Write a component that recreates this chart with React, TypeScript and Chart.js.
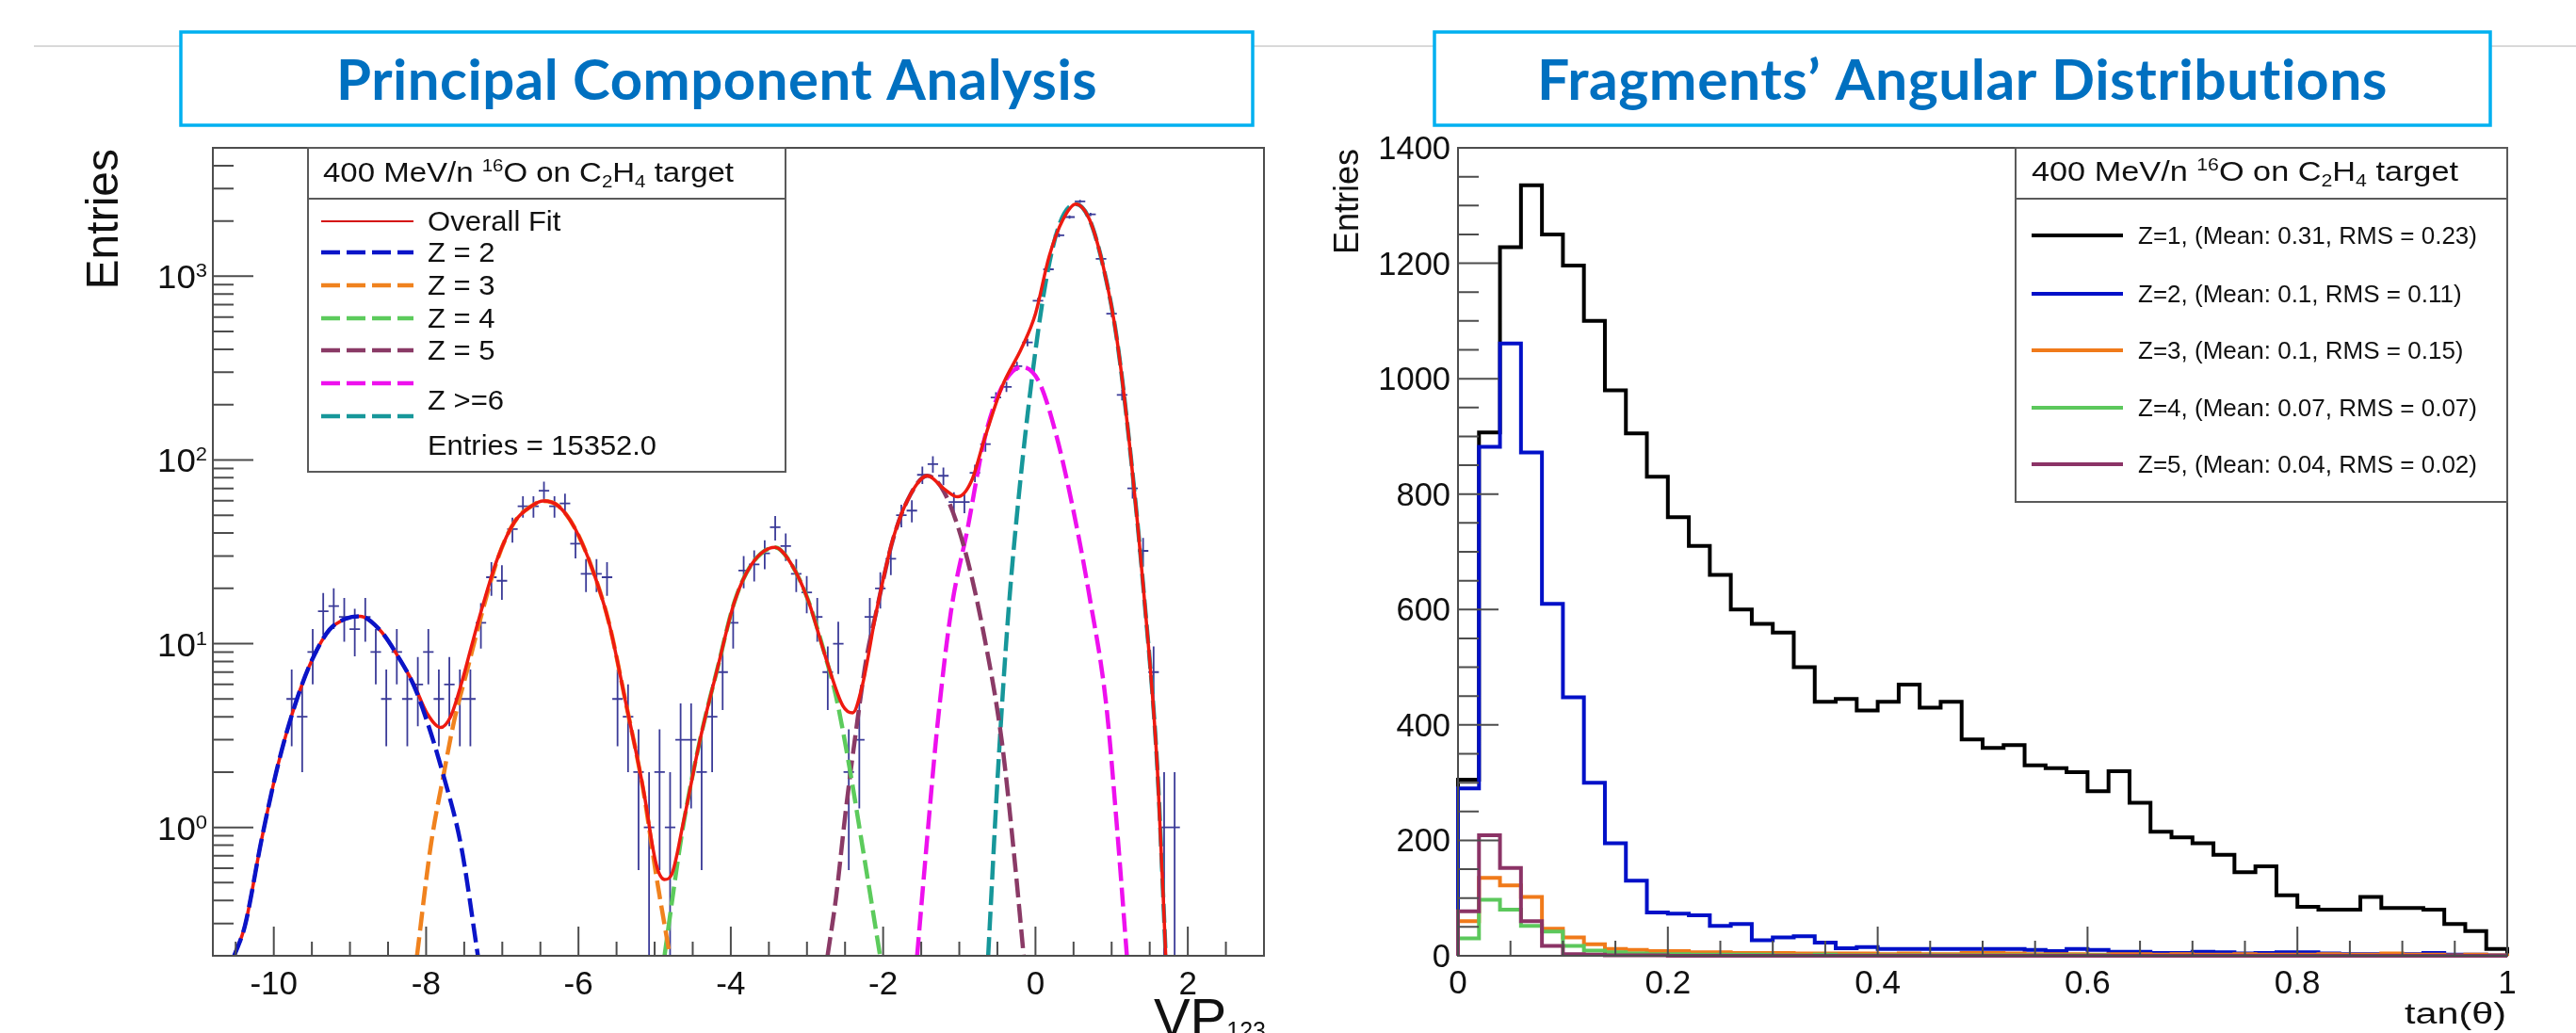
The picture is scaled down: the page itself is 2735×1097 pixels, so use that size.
import React, { useEffect, useRef } from "react";
import { Chart, registerables } from "chart.js";

Chart.register(...registerables);

const FONT = "'Liberation Sans', Arial, Helvetica, sans-serif";
const TITLE_FONT = "Lato, 'Open Sans', 'Noto Sans', sans-serif";
const INK = "#111111";
const FRAME = "#4d4d4d";

/* ================= Left panel: Principal Component Analysis ================= */
const pcaTitle = "Principal Component Analysis";
const pcaXMin = -10.8;
const pcaXMax = 3.0;
const pcaYMin = 0.2;
const pcaYMax = 5000;
const pcaBinStart = -10.8;
const pcaBinWidth = 0.138;
const pcaFirstBin = 7;
// measured entries per bin (bins 7 .. 91)
const pcaCounts = [
  5, 4, 9, 15, 16, 14, 12, 14, 9, 5, 9, 5, 6, 9, 5, 6, 5, 5, 13, 23,
  22, 42, 56, 56, 68, 56, 58, 35, 24, 24, 23, 5, 4, 2, 1, 2, 1, 3, 3, 2,
  4, 7, 13, 25, 27, 31, 43, 34, 24, 19, 14, 7, 10, 2, 3, 14, 20, 29, 50, 53,
  83, 95, 82, 59, 59, 85, 122, 219, 250, 324, 436, 736, 1091, 1671, 2100, 2557, 2171, 1245, 625, 226,
  70, 32, 7, 1, 1,
];
const pcaXTickLabels = [-10, -8, -6, -4, -2, 0, 2];
const pcaYDecades = [0, 1, 2, 3];

// fit curves: [VP, entries]
const fitOverall: [number, number][] = [
  [-10.52, 0.2], [-10.38, 0.29], [-10.16, 0.86], [-9.94, 2.23], [-9.71, 4.8], [-9.49, 8.3], [-9.27, 11.9],
  [-9.05, 13.7], [-8.87, 14.1], [-8.61, 11.9], [-8.39, 8.8], [-8.16, 6.0], [-7.99, 4.2], [-7.81, 3.5],
  [-7.68, 4.0], [-7.54, 6.0], [-7.41, 9.5], [-7.28, 14.9], [-7.06, 29.3], [-6.84, 46], [-6.62, 56],
  [-6.46, 59.8], [-6.26, 56], [-6.04, 42], [-5.82, 25.6], [-5.6, 13], [-5.38, 4.8], [-5.15, 1.63],
  [-4.98, 0.63], [-4.87, 0.52], [-4.78, 0.55], [-4.62, 1.08], [-4.4, 3.05], [-4.18, 7.2], [-3.95, 17],
  [-3.73, 26.9], [-3.42, 33.4], [-3.2, 26.9], [-2.98, 17], [-2.75, 8.3], [-2.53, 4.6], [-2.4, 4.2],
  [-2.27, 6.0], [-2.09, 14.9], [-1.87, 37.3], [-1.64, 65], [-1.42, 82], [-1.2, 69.6], [-1.02, 63],
  [-0.84, 76.8], [-0.67, 130], [-0.44, 250], [-0.18, 408], [0.0, 625], [0.18, 1285], [0.36, 2032],
  [0.53, 2472], [0.71, 2032], [0.89, 1127], [1.07, 451], [1.25, 106], [1.42, 19.4], [1.6, 2.1], [1.71, 0.2],
];
const fitZ2: [number, number][] = [
  [-10.52, 0.2], [-10.38, 0.29], [-10.16, 0.86], [-9.94, 2.23], [-9.71, 4.8], [-9.49, 8.3], [-9.27, 11.9],
  [-9.05, 13.7], [-8.87, 14.1], [-8.61, 11.9], [-8.39, 8.8], [-8.16, 5.9], [-7.99, 3.8], [-7.77, 1.9],
  [-7.54, 0.79], [-7.32, 0.2],
];
const fitZ3: [number, number][] = [
  [-8.12, 0.2], [-7.94, 0.79], [-7.77, 1.94], [-7.63, 3.84], [-7.46, 7.2], [-7.28, 14], [-7.06, 29],
  [-6.84, 46], [-6.62, 56], [-6.46, 59.8], [-6.26, 56], [-6.04, 42], [-5.82, 25.6], [-5.6, 13],
  [-5.38, 4.8], [-5.15, 1.6], [-4.98, 0.55], [-4.8, 0.2],
];
const fitZ4: [number, number][] = [
  [-4.87, 0.2], [-4.71, 0.6], [-4.62, 1.05], [-4.4, 3.05], [-4.18, 7.2], [-3.95, 17], [-3.73, 26.9],
  [-3.42, 33.4], [-3.2, 26.9], [-2.98, 17], [-2.75, 8.3], [-2.62, 5.2], [-2.44, 2.1], [-2.27, 0.78], [-2.04, 0.2],
];
const fitZ5: [number, number][] = [
  [-2.73, 0.2], [-2.62, 0.41], [-2.49, 1.24], [-2.35, 3.5], [-2.22, 8.3], [-2.09, 14.9], [-1.87, 37],
  [-1.64, 65], [-1.42, 82], [-1.2, 67], [-0.93, 32.7], [-0.67, 10.8], [-0.44, 2.9], [-0.27, 0.64], [-0.155, 0.2],
];
const fitZ6a: [number, number][] = [
  [-1.554, 0.2], [-1.42, 0.89], [-1.29, 3.5], [-1.11, 14.9], [-0.89, 42.6], [-0.67, 130], [-0.44, 250],
  [-0.18, 321], [0.045, 267], [0.27, 138], [0.49, 55], [0.71, 18], [0.93, 4.6], [1.07, 1.0], [1.2, 0.2],
];
const fitZ6b: [number, number][] = [
  [-0.621, 0.2], [-0.49, 2.1], [-0.355, 14.9], [-0.22, 63], [-0.044, 284], [0.134, 926], [0.312, 1905],
  [0.534, 2472], [0.71, 2032], [0.89, 1127], [1.07, 451], [1.25, 106], [1.42, 19.4], [1.6, 2.1], [1.71, 0.2],
];
const pcaLegendLabels = ["Overall Fit", "Z = 2", "Z = 3", "Z = 4", "Z = 5", "Z >=6"];
const pcaEntriesText = "Entries = 15352.0";

const C_FIT = "#EE1A10";
const C_Z2 = "#0A14C8";
const C_Z3 = "#F0821E";
const C_Z4 = "#5CCB5C";
const C_Z5 = "#8A3A66";
const C_Z6A = "#EE10EE";
const C_Z6B = "#17979A";
const C_DATA = "#3B3B98";

/* ================= Right panel: Fragments' Angular Distributions ================= */
const angTitle = "Fragments\u2019 Angular Distributions";
const angBinWidth = 0.02;
const angZ1 = [
  305, 907, 1228, 1335, 1250, 1196, 1100, 980, 905, 830,
  760, 710, 660, 600, 575, 560, 500, 440, 445, 425,
  440, 470, 430, 440, 375, 360, 365, 330, 325, 318,
  285, 320, 265, 215, 205, 195, 175, 145, 155, 105,
  85, 80, 80, 102, 83, 83, 80, 55, 43, 12,
];
const angZ2 = [
  290, 882, 1061, 872, 610, 448, 300, 195, 130, 75,
  73, 70, 52, 55, 27, 32, 34, 23, 13, 15,
  12, 12, 12, 12, 12, 12, 12, 10, 8, 12,
  10, 7, 7, 5, 5, 7, 6, 4, 5, 6,
  6, 4, 3, 3, 2, 3, 5, 2, 2, 1,
];
const angZ3 = [
  60, 135, 122, 102, 47, 32, 20, 12, 10, 8,
  8, 6, 6, 5, 5, 5, 4, 4, 4, 4,
  3, 4, 3, 3, 5, 5, 4, 3, 3, 3,
  2, 3, 3, 2, 3, 2, 2, 3, 2, 2,
  2, 3, 2, 2, 4, 2, 2, 1, 2, 1,
];
const angZ4 = [
  30, 97, 80, 52, 42, 17, 9, 6, 4, 3,
  3, 2, 2, 2, 2, 1, 1, 2, 1, 1,
  1, 1, 1, 1, 1, 1, 1, 1, 1, 1,
  1, 0, 0, 0, 0, 0, 0, 0, 0, 0,
  0, 0, 0, 0, 0, 0, 0, 0, 0, 0,
];
const angZ5 = [
  77, 209, 152, 60, 17, 3, 2, 1, 1, 1,
  0, 0, 0, 0, 0, 0, 0, 0, 0, 0,
  0, 0, 0, 0, 0, 0, 0, 0, 0, 0,
  0, 0, 0, 0, 0, 0, 0, 0, 0, 0,
  0, 0, 0, 0, 0, 0, 0, 0, 0, 0,
];
const angXTicks = [0, 0.2, 0.4, 0.6, 0.8, 1];
const angXTickLabels = ["0", "0.2", "0.4", "0.6", "0.8", "1"];
const angYTicks = [0, 200, 400, 600, 800, 1000, 1200, 1400];
const angLegendLabels = [
  "Z=1, (Mean: 0.31, RMS = 0.23)",
  "Z=2, (Mean: 0.1, RMS = 0.11)",
  "Z=3, (Mean: 0.1, RMS = 0.15)",
  "Z=4, (Mean: 0.07, RMS = 0.07)",
  "Z=5, (Mean: 0.04, RMS = 0.02)",
];
const A_Z1 = "#000000";
const A_Z2 = "#0010C8";
const A_Z3 = "#F07A1A";
const A_Z4 = "#5CC85C";
const A_Z5 = "#8B3366";

/* ================= drawing helpers ================= */
type Seg = { t: string; size: number; dy?: number };

function drawRich(ctx: any, segs: Seg[], x: number, y: number, align: string, opts: any = {}) {
  const fam = opts.family || FONT;
  const wt = opts.weight || "normal";
  ctx.save();
  if ("letterSpacing" in ctx) ctx.letterSpacing = opts.letterSpacing || "0px";
  const ws = segs.map((s) => {
    ctx.font = `${wt} ${s.size}px ${fam}`;
    return ctx.measureText(s.t).width;
  });
  const nat = ws.reduce((a: number, b: number) => a + b, 0);
  const sx = opts.width ? opts.width / nat : opts.sx || 1;
  const tot = nat * sx;
  const x0 = align === "left" ? x : align === "center" ? x - tot / 2 : x - tot;
  ctx.fillStyle = opts.color || INK;
  ctx.textBaseline = "alphabetic";
  ctx.textAlign = "left";
  ctx.translate(x0, y);
  ctx.scale(sx, 1);
  let cx = 0;
  segs.forEach((s, i) => {
    ctx.font = `${wt} ${s.size}px ${fam}`;
    ctx.fillText(s.t, cx, s.dy || 0);
    cx += ws[i];
  });
  ctx.restore();
}

function drawTitleBox(ctx: any, l: number, r: number, text: string, textWidth: number, lineFrom: number, lineTo: number) {
  ctx.save();
  ctx.strokeStyle = "#D9D9D9";
  ctx.lineWidth = 2;
  ctx.beginPath();
  ctx.moveTo(lineFrom, 49);
  ctx.lineTo(lineTo, 49);
  ctx.stroke();
  ctx.fillStyle = "#ffffff";
  ctx.fillRect(l, 34, r - l, 99);
  ctx.strokeStyle = "#00B0F0";
  ctx.lineWidth = 3.5;
  ctx.strokeRect(l, 34, r - l, 99);
  ctx.restore();
  drawRich(ctx, [{ t: text, size: 60 }], (l + r) / 2, 106, "center", {
    width: textWidth,
    color: "#0070C0",
    family: TITLE_FONT,
    weight: "bold",
    letterSpacing: "0.5px",
  });
}

function headerSegs(): Seg[] {
  return [
    { t: "400 MeV/n ", size: 29 },
    { t: "16", size: 18, dy: -11 },
    { t: "O on C", size: 29 },
    { t: "2", size: 18, dy: 6 },
    { t: "H", size: 29 },
    { t: "4", size: 18, dy: 6 },
    { t: " target", size: 29 },
  ];
}

function hLine(ctx: any, x0: number, x1: number, y: number, color: string, w: number, dash: number[]) {
  ctx.save();
  ctx.strokeStyle = color;
  ctx.lineWidth = w;
  ctx.setLineDash(dash);
  ctx.beginPath();
  ctx.moveTo(x0, y);
  ctx.lineTo(x1, y);
  ctx.stroke();
  ctx.restore();
}

function rotatedTitle(ctx: any, text: string, baseX: number, topY: number, size: number) {
  ctx.save();
  ctx.translate(baseX, topY);
  ctx.rotate(-Math.PI / 2);
  drawRich(ctx, [{ t: text, size }], 0, 0, "right");
  ctx.restore();
}

/* ================= plugins ================= */
const pcaDecor = {
  id: "pcaDecor",
  beforeDraw(chart: any) {
    drawTitleBox(chart.ctx, 192, 1330, pcaTitle, 808, 36, 1400);
  },
  beforeDatasetsDraw(chart: any) {
    const { ctx, chartArea: a, scales } = chart;
    const xs = scales.x;
    const ys = scales.y;
    ctx.save();
    ctx.beginPath();
    ctx.rect(a.left, a.top, a.right - a.left, a.bottom - a.top);
    ctx.clip();
    ctx.strokeStyle = C_DATA;
    ctx.lineWidth = 1.8;
    ctx.beginPath();
    pcaCounts.forEach((c, k) => {
      const i = pcaFirstBin + k;
      const xc = pcaBinStart + pcaBinWidth * (i + 0.5);
      const px = xs.getPixelForValue(xc);
      const x0 = xs.getPixelForValue(xc - pcaBinWidth / 2);
      const x1 = xs.getPixelForValue(xc + pcaBinWidth / 2);
      const py = ys.getPixelForValue(c);
      const e = Math.sqrt(c);
      const lo = c - e > 0 ? ys.getPixelForValue(c - e) : a.bottom + 5;
      const hi = ys.getPixelForValue(c + e);
      ctx.moveTo(x0, py);
      ctx.lineTo(x1, py);
      ctx.moveTo(px, lo);
      ctx.lineTo(px, hi);
    });
    ctx.stroke();
    ctx.restore();
  },
  afterDraw(chart: any) {
    const { ctx, chartArea: a, scales } = chart;
    const xs = scales.x;
    const ys = scales.y;
    ctx.save();
    ctx.strokeStyle = FRAME;
    ctx.lineWidth = 2;
    ctx.beginPath();
    for (let k = Math.ceil(pcaXMin / 0.5); k * 0.5 <= pcaXMax + 1e-9; k++) {
      const v = k * 0.5;
      const px = xs.getPixelForValue(v);
      const major = pcaXTickLabels.indexOf(v) >= 0;
      ctx.moveTo(px, a.bottom);
      ctx.lineTo(px, a.bottom - (major ? 31 : 15));
    }
    for (let e = -1; e <= 3; e++) {
      for (let m = 1; m <= 9; m++) {
        const v = m * Math.pow(10, e);
        if (v < pcaYMin - 1e-9 || v > pcaYMax + 1e-9) continue;
        const py = ys.getPixelForValue(v);
        ctx.moveTo(a.left, py);
        ctx.lineTo(a.left + (m === 1 ? 43 : 22), py);
      }
    }
    ctx.stroke();
    ctx.strokeRect(a.left, a.top, a.right - a.left, a.bottom - a.top);
    ctx.restore();

    pcaYDecades.forEach((d) => {
      const py = ys.getPixelForValue(Math.pow(10, d));
      drawRich(ctx, [{ t: "10", size: 35 }, { t: String(d), size: 21, dy: -12 }], 220, py + 13, "right", { width: 53 });
    });
    pcaXTickLabels.forEach((v) => {
      drawRich(ctx, [{ t: String(v), size: 35 }], xs.getPixelForValue(v), 1056, "center");
    });
    rotatedTitle(ctx, "Entries", 125, 158, 48);
    drawRich(ctx, [{ t: "VP", size: 58 }, { t: "123", size: 25, dy: 2 }], 1344, 1101, "right");

    // legend
    ctx.save();
    ctx.fillStyle = "#ffffff";
    ctx.fillRect(327, 157, 507, 344);
    ctx.strokeStyle = "#5a5a5a";
    ctx.lineWidth = 2;
    ctx.strokeRect(327, 157, 507, 344);
    ctx.beginPath();
    ctx.moveTo(327, 211);
    ctx.lineTo(834, 211);
    ctx.stroke();
    ctx.restore();
    drawRich(ctx, headerSegs(), 343, 192.5, "left", { width: 436 });
    hLine(ctx, 341, 439, 235, "#D41010", 2, []);
    hLine(ctx, 341, 439, 268, C_Z2, 4.5, [20, 7]);
    hLine(ctx, 341, 439, 303, C_Z3, 4.5, [20, 7]);
    hLine(ctx, 341, 439, 338, C_Z4, 4.5, [20, 7]);
    hLine(ctx, 341, 439, 372, C_Z5, 4.5, [20, 7]);
    hLine(ctx, 341, 439, 407, C_Z6A, 4.5, [20, 7]);
    hLine(ctx, 341, 439, 442, C_Z6B, 4.5, [20, 7]);
    const ys2 = [235, 268, 303, 338, 372, 425];
    pcaLegendLabels.forEach((t, i) => {
      drawRich(ctx, [{ t, size: 29 }], 454, ys2[i] + 10, "left", { sx: 1.07 });
    });
    drawRich(ctx, [{ t: pcaEntriesText, size: 29 }], 454, 483, "left", { width: 243 });
  },
};

const angDecor = {
  id: "angDecor",
  beforeDraw(chart: any) {
    drawTitleBox(chart.ctx, 123, 1244, angTitle, 903, 0, 1335);
  },
  afterDraw(chart: any) {
    const { ctx, chartArea: a, scales } = chart;
    const xs = scales.x;
    const ys = scales.y;
    ctx.save();
    ctx.strokeStyle = FRAME;
    ctx.lineWidth = 2;
    ctx.beginPath();
    for (let k = 0; k <= 20; k++) {
      const v = k * 0.05;
      const px = xs.getPixelForValue(v);
      const major = k % 4 === 0;
      ctx.moveTo(px, a.bottom);
      ctx.lineTo(px, a.bottom - (major ? 31 : 16));
    }
    for (let k = 0; k <= 28; k++) {
      const v = k * 50;
      const py = ys.getPixelForValue(v);
      const major = k % 4 === 0;
      ctx.moveTo(a.left, py);
      ctx.lineTo(a.left + (major ? 43 : 22), py);
    }
    ctx.stroke();
    ctx.strokeRect(a.left, a.top, a.right - a.left, a.bottom - a.top);
    ctx.restore();

    angYTicks.forEach((v) => {
      drawRich(ctx, [{ t: String(v), size: 34.5 }], a.left - 8, ys.getPixelForValue(v) + 12, "right");
    });
    angXTicks.forEach((v, i) => {
      drawRich(ctx, [{ t: angXTickLabels[i], size: 35 }], xs.getPixelForValue(v), 1055, "center");
    });
    rotatedTitle(ctx, "Entries", 42, 158, 36);
    drawRich(ctx, [{ t: "tan(\u03B8)", size: 31 }], 1261, 1087, "right", { width: 108 });

    // legend
    ctx.save();
    ctx.fillStyle = "#ffffff";
    ctx.fillRect(740, 157, 522, 376);
    ctx.strokeStyle = "#5a5a5a";
    ctx.lineWidth = 2;
    ctx.strokeRect(740, 157, 522, 376);
    ctx.beginPath();
    ctx.moveTo(740, 211);
    ctx.lineTo(1262, 211);
    ctx.stroke();
    ctx.restore();
    drawRich(ctx, headerSegs(), 757, 192, "left", { width: 453 });
    const cols = [A_Z1, A_Z2, A_Z3, A_Z4, A_Z5];
    const ly = [250, 312, 372, 433, 493];
    angLegendLabels.forEach((t, i) => {
      hLine(ctx, 757, 854, ly[i], cols[i], 4, []);
      drawRich(ctx, [{ t, size: 25.5 }], 870, ly[i] + 9, "left", { sx: 1.02 });
    });
  },
};

/* ================= chart configs ================= */
function curve(pts: [number, number][], color: string, width: number, dash: number[], order: number) {
  return {
    data: pts.map(([x, y]) => ({ x, y })),
    borderColor: color,
    borderWidth: width,
    borderDash: dash,
    pointRadius: 0,
    cubicInterpolationMode: "monotone",
    fill: false,
    order,
    clip: 0,
  };
}

function hist(vals: number[], color: string, order: number) {
  const pts = [{ x: 0, y: 0 }, ...vals.map((v, i) => ({ x: i * angBinWidth, y: v })), { x: 1, y: 0 }];
  return {
    data: pts,
    borderColor: color,
    borderWidth: 4,
    stepped: "before",
    borderJoinStyle: "miter",
    pointRadius: 0,
    fill: false,
    order,
    clip: 3,
  };
}

function pcaConfig(): any {
  return {
    type: "line",
    data: {
      datasets: [
        curve(fitZ2, C_Z2, 4.5, [20, 7], 0),
        curve(fitOverall, C_FIT, 3.5, [], 1),
        curve(fitZ3, C_Z3, 4.5, [20, 7], 2),
        curve(fitZ4, C_Z4, 4.5, [20, 7], 2),
        curve(fitZ5, C_Z5, 4.5, [20, 7], 2),
        curve(fitZ6a, C_Z6A, 4.5, [20, 7], 2),
        curve(fitZ6b, C_Z6B, 4.5, [20, 7], 2),
      ],
    },
    options: {
      responsive: false,
      animation: false,
      events: [],
      layout: { padding: { left: 226, top: 157, right: 1400 - 1342, bottom: 1097 - 1015 } },
      scales: {
        x: { type: "linear", min: pcaXMin, max: pcaXMax, display: false, bounds: "data" },
        y: { type: "logarithmic", min: pcaYMin, max: pcaYMax, display: false, bounds: "data" },
      },
      plugins: { legend: { display: false }, tooltip: { enabled: false } },
    },
    plugins: [pcaDecor],
  };
}

function angConfig(): any {
  return {
    type: "line",
    data: {
      datasets: [
        hist(angZ1, A_Z1, 5),
        hist(angZ2, A_Z2, 4),
        hist(angZ3, A_Z3, 3),
        hist(angZ4, A_Z4, 2),
        hist(angZ5, A_Z5, 1),
      ],
    },
    options: {
      responsive: false,
      animation: false,
      events: [],
      layout: { padding: { left: 148, top: 157, right: 1335 - 1262, bottom: 1097 - 1015 } },
      scales: {
        x: { type: "linear", min: 0, max: 1, display: false, bounds: "data" },
        y: { type: "linear", min: 0, max: 1400, display: false, bounds: "data" },
      },
      plugins: { legend: { display: false }, tooltip: { enabled: false } },
    },
    plugins: [angDecor],
  };
}

export default function App() {
  const leftRef = useRef<HTMLCanvasElement>(null);
  const rightRef = useRef<HTMLCanvasElement>(null);
  useEffect(() => {
    const l = new Chart(leftRef.current as HTMLCanvasElement, pcaConfig());
    const r = new Chart(rightRef.current as HTMLCanvasElement, angConfig());
    return () => {
      l.destroy();
      r.destroy();
    };
  }, []);
  return (
    <div
      style={{
        position: "absolute",
        left: 0,
        top: 0,
        width: 2735,
        height: 1097,
        background: "#ffffff",
        overflow: "hidden",
      }}
    >
      <canvas
        ref={leftRef}
        width={1400}
        height={1097}
        style={{ position: "absolute", left: 0, top: 0, width: 1400, height: 1097 }}
      />
      <canvas
        ref={rightRef}
        width={1335}
        height={1097}
        style={{ position: "absolute", left: 1400, top: 0, width: 1335, height: 1097 }}
      />
    </div>
  );
}
